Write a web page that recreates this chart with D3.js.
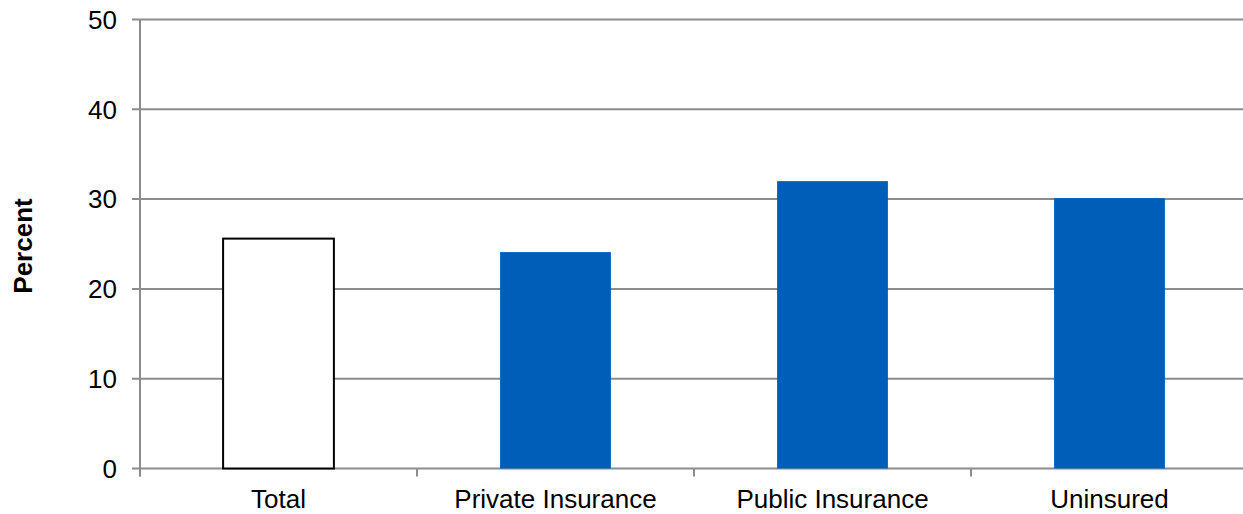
<!DOCTYPE html>
<html><head><meta charset="utf-8">
<script src="https://cdn.jsdelivr.net/npm/d3@7"></script>
<style>body{margin:0;background:#fff}svg{display:block}text{font-family:"Liberation Sans",Arial,sans-serif}</style>
</head><body><svg id="c" width="1243" height="514"></svg>
<script>
const categories = ["Total", "Private Insurance", "Public Insurance", "Uninsured"];
const values = [25.6, 24.1, 32.0, 30.1];
const barColors = ["#ffffff", "#005EB8", "#005EB8", "#005EB8"];
const yTicks = [0, 10, 20, 30, 40, 50];

const svg = d3.select("#c");
const m = {left: 140, top: 19.5, bottom: 468.5};
const bandW = 277;
const x = d3.scaleBand().domain(categories).range([m.left, m.left + bandW * categories.length]).paddingInner(0.6).paddingOuter(0.3);
const y = d3.scaleLinear().domain([0, 50]).range([m.bottom, m.top]);
const grid = "#8c8c8c";

// gridlines
svg.append("g").selectAll("line").data(yTicks).join("line")
  .attr("x1", 132).attr("x2", 1243)
  .attr("y1", d => y(d)).attr("y2", d => y(d))
  .attr("stroke", grid).attr("stroke-width", 2);

// y axis line
svg.append("line").attr("x1", m.left).attr("x2", m.left).attr("y1", y(50)).attr("y2", m.bottom + 8)
  .attr("stroke", grid).attr("stroke-width", 2);

// x ticks at band boundaries
const bounds = d3.range(categories.length + 1).map(i => m.left + i * bandW);
svg.append("g").selectAll("line").data(bounds).join("line")
  .attr("x1", d => d).attr("x2", d => d).attr("y1", m.bottom).attr("y2", m.bottom + 8)
  .attr("stroke", grid).attr("stroke-width", 2);

// y tick labels
svg.append("g").selectAll("text").data(yTicks).join("text")
  .attr("x", 117).attr("y", d => y(d)).attr("dy", "0.36em")
  .attr("text-anchor", "end").attr("font-size", 26).attr("fill", "#000")
  .text(d => d);

// bars
svg.append("g").selectAll("rect").data(categories).join("rect")
  .attr("x", d => x(d)).attr("width", x.bandwidth())
  .attr("y", (d, i) => y(values[i])).attr("height", (d, i) => y(0) - y(values[i]))
  .attr("fill", (d, i) => barColors[i])
  .attr("stroke", (d, i) => i === 0 ? "#000" : "none").attr("stroke-width", 2);

// x labels
svg.append("g").selectAll("text").data(categories).join("text")
  .attr("x", d => x(d) + x.bandwidth() / 2).attr("y", 508)
  .attr("text-anchor", "middle").attr("font-size", 26).attr("fill", "#000")
  .text(d => d);

// y title
svg.append("text").attr("transform", "translate(32,246) rotate(-90)")
  .attr("text-anchor", "middle").attr("font-size", 26).attr("font-weight", "bold").text("Percent");
</script></body></html>
